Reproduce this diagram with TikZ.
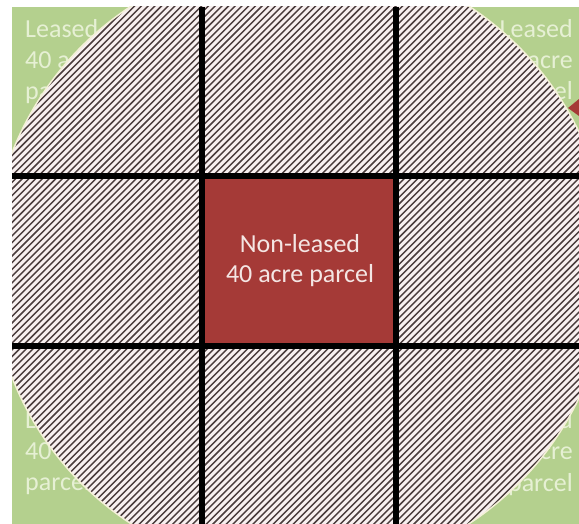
\documentclass[tikz,border=0pt]{standalone}
\usepackage{fontspec}
\setmainfont{Carlito}
\definecolor{fieldgreen}{HTML}{B4D08E}
\definecolor{paletext}{HTML}{E6F0D4}
\definecolor{hatchbg}{HTML}{F8F0F0}
\definecolor{hatchdark}{HTML}{4A3C3C}
\definecolor{parcelred}{HTML}{A53A37}
\definecolor{redtext}{HTML}{F4E6E4}
\definecolor{rimcream}{HTML}{F4F0D8}
\tikzset{
  cornertxt/.style={text=paletext,font=\fontsize{26}{30}\selectfont,inner sep=0pt},
  centertxt/.style={text=redtext,font=\fontsize{26}{30}\selectfont,inner sep=0pt,anchor=base},
  gridline/.style={line width=6pt,black},
  hatchline/.style={hatchdark,line width=1.45pt},
}
\begin{document}
\begin{tikzpicture}[x=1pt,y=-1pt]
\useasboundingbox (0,0) rectangle (579,524);
\fill[white] (0,0) rectangle (579,524);
\fill[fieldgreen] (12,7) rectangle (579,524);
\begin{scope}
\clip (12,7) rectangle (579,524);
% corner labels
\node[cornertxt,anchor=base west] (tl1) at (25,38) {Leased};
\node[cornertxt,anchor=base west] (tl2) at (25,69) {40 acre};
\node[cornertxt,anchor=base west] (tl3) at (25,100) {parcel};
\node[cornertxt,anchor=base east] (tr1) at (573,38) {Leased};
\node[cornertxt,anchor=base east] (tr2) at (573,69) {40 acre};
\node[cornertxt,anchor=base east] (tr3) at (573,100) {parcel};
\node[cornertxt,anchor=base west] (bl1) at (25,428) {Leased};
\node[cornertxt,anchor=base west] (bl2) at (25,459) {40 acre};
\node[cornertxt,anchor=base west] (bl3) at (25,490) {parcel};
\node[cornertxt,anchor=base east] (br1) at (573,428) {Leased};
\node[cornertxt,anchor=base east] (br2) at (573,459) {40 acre};
\node[cornertxt,anchor=base east] (br3) at (573,491) {parcel};
% small red tip at right edge
\fill[parcelred] (579,99) -- (568,108) -- (579,116) -- cycle;
% hatched circle
\begin{scope}
  \clip (300,265) circle[radius=309];
  \fill[hatchbg] (300,265) circle[radius=309];
  \foreach \c in {0,6.7,...,1160} {
    \draw[hatchline] (-10,\c+10) -- (600,\c-600);
  }
\end{scope}
\draw[rimcream,line width=1.5pt] (300,265) circle[radius=309];
\end{scope}
% central parcel
\fill[parcelred] (202,176) rectangle (396,346);
\node[centertxt] (c1) at (300,252) {Non-leased};
\node[centertxt] (c2) at (300,282) {40 acre parcel};
% grid
\draw[gridline] (202,7) -- (202,524);
\draw[gridline] (396,7) -- (396,524);
\draw[gridline] (12,176) -- (579,176);
\draw[gridline] (12,346) -- (579,346);
\end{tikzpicture}
\end{document}
